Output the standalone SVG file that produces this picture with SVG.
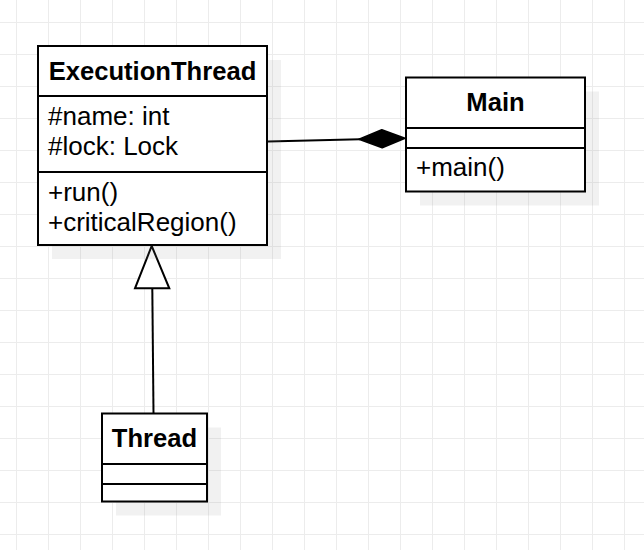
<svg xmlns="http://www.w3.org/2000/svg" width="644" height="550" viewBox="0 0 644 550">
<style>
.box{fill:#ffffff;stroke:#000000;stroke-width:2}
.div{stroke:#000000;stroke-width:2;fill:none}
.shadow{fill:#808080;fill-opacity:0.11}
.title{font-family:"Liberation Sans",Arial,sans-serif;font-size:25.6px;font-weight:bold;fill:#000000;text-anchor:middle}
.member{font-family:"Liberation Sans",Arial,sans-serif;font-size:26px;fill:#000000}
.edge{stroke:#000000;stroke-width:2;fill:none}
</style>
<defs>
<pattern id="grid" x="16" y="22" width="32" height="32" patternUnits="userSpaceOnUse">
<path d="M0.5 0V32M0 0.5H32" stroke="#ececec" stroke-width="1" fill="none"/>
</pattern>
</defs>
<rect x="0" y="0" width="644" height="550" fill="#ffffff"/>
<rect x="0" y="0" width="644" height="550" fill="url(#grid)"/>

<g id="connectors">
<line class="edge" x1="268" y1="141.6" x2="360" y2="139.3"/>
<path d="M405 138.2 L382.2 147.8 L359 139.3 L381.8 129.8 Z" fill="#000000" stroke="#000000" stroke-width="1.5" stroke-linejoin="round"/>
<line class="edge" x1="153.5" y1="413" x2="152.3" y2="288"/>
<path d="M151.7 246 L169.3 288.3 L135 288.3 Z" fill="#ffffff" stroke="#000000" stroke-width="2" stroke-linejoin="miter"/>
</g>

<g id="ExecutionThread">
<rect class="shadow" x="52" y="60" width="229" height="199"/>
<rect class="box" x="38" y="46" width="229" height="199"/>
<line class="div" x1="38" y1="96" x2="267" y2="96"/>
<line class="div" x1="38" y1="172" x2="267" y2="172"/>
<text class="title" x="152.5" y="80">ExecutionThread</text>
<text class="member" x="48" y="125">#name: int</text>
<text class="member" x="48" y="155">#lock: Lock</text>
<text class="member" x="48" y="201">+run()</text>
<text class="member" x="48" y="231">+criticalRegion()</text>
</g>

<g id="Main">
<rect class="shadow" x="420" y="91.5" width="179" height="114"/>
<rect class="box" x="406" y="77.5" width="179" height="114"/>
<line class="div" x1="406" y1="128" x2="585" y2="128"/>
<line class="div" x1="406" y1="148" x2="585" y2="148"/>
<text class="title" x="495.5" y="111">Main</text>
<text class="member" x="416" y="176">+main()</text>
</g>

<g id="Thread">
<rect class="shadow" x="116" y="427.5" width="105" height="88"/>
<rect class="box" x="102" y="413.5" width="105" height="88"/>
<line class="div" x1="102" y1="464" x2="207" y2="464"/>
<line class="div" x1="102" y1="484" x2="207" y2="484"/>
<text class="title" x="154.5" y="447">Thread</text>
</g>
</svg>
